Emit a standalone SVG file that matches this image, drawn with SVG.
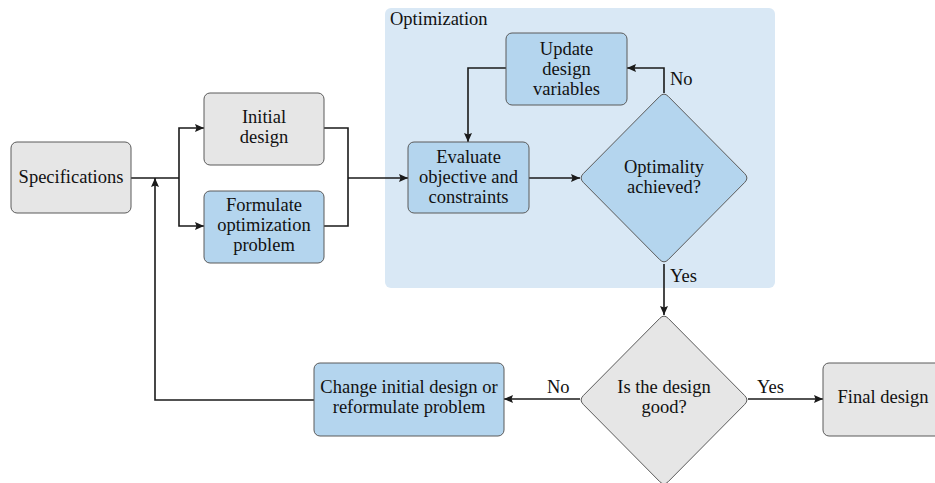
<svg xmlns="http://www.w3.org/2000/svg" xmlns:xlink="http://www.w3.org/1999/xlink" width="935" height="483" viewBox="0 0 935 483">
<style>
  text { font-family: 'Liberation Serif', 'DejaVu Serif', serif; font-size: 18.5px; fill: #111; }
  .t { text-anchor: middle; }
  .gray { fill: #e6e6e6; stroke: #5a5a5a; stroke-width: 1; }
  .blue { fill: #b4d5ee; stroke: #5a5a5a; stroke-width: 1; }
  .conn { fill: none; stroke: #1a1a1a; stroke-width: 1.6; }
  .arr { marker-end: url(#ah); }
</style>
<defs>
  <marker id="ah" markerUnits="userSpaceOnUse" markerWidth="10" markerHeight="8" refX="9" refY="4" orient="auto">
    <path d="M0,0 L9,4 L0,8 L1.5,4 Z" fill="#1a1a1a"/>
  </marker>
  <path id="dia" d="M -4.2,-81.7 Q 0,-86 4.2,-81.7 L 80.8,-4.3 Q 85,0 80.8,4.3 L 4.2,81.7 Q 0,86 -4.2,81.7 L -80.8,4.3 Q -85,0 -80.8,-4.3 Z"/>
</defs>
<rect width="935" height="483" fill="#ffffff"/>

<g font-family="Liberation Serif, DejaVu Serif, serif">
<g id="optimization-region">
  <rect x="385" y="8" width="390" height="280" rx="6" fill="#d9e8f5"/>
  <text x="390" y="25">Optimization</text>
</g>

<g id="connectors">
  <path class="conn" d="M131,178 H179"/>
  <path class="conn arr" d="M179,178 V128 H204"/>
  <path class="conn arr" d="M179,178 V226 H204"/>
  <path class="conn" d="M324,128 H348 V226 H324"/>
  <path class="conn arr" d="M348,178 H408"/>
  <path class="conn arr" d="M529,178 H580"/>
  <path class="conn arr" d="M664,93 V68 H627"/>
  <path class="conn arr" d="M506,68 H468 V142"/>
  <path class="conn arr" d="M664,264 V315"/>
  <path class="conn arr" d="M580,399 H504"/>
  <path class="conn arr" d="M748,399 H823"/>
  <path class="conn arr" d="M314,400 H155 V178"/>
  <text x="670" y="85">No</text>
  <text x="670" y="282">Yes</text>
  <text x="547" y="393">No</text>
  <text x="757" y="393">Yes</text>
</g>

<g id="specifications">
  <rect class="gray" x="11" y="142" width="120" height="71" rx="6"/>
  <text class="t" x="71" y="183">Specifications</text>
</g>

<g id="initial-design">
  <rect class="gray" x="204" y="93" width="120" height="72" rx="6"/>
  <text class="t" x="264" y="123">Initial</text>
  <text class="t" x="264" y="143">design</text>
</g>

<g id="formulate">
  <rect class="blue" x="204" y="191" width="120" height="72" rx="6"/>
  <text class="t" x="264" y="211">Formulate</text>
  <text class="t" x="264" y="231">optimization</text>
  <text class="t" x="264" y="251">problem</text>
</g>

<g id="update">
  <rect class="blue" x="506" y="33" width="121" height="72" rx="6"/>
  <text class="t" x="566.5" y="55">Update</text>
  <text class="t" x="566.5" y="75">design</text>
  <text class="t" x="566.5" y="95">variables</text>
</g>

<g id="evaluate">
  <rect class="blue" x="408" y="142" width="121" height="71" rx="6"/>
  <text class="t" x="468.5" y="163">Evaluate</text>
  <text class="t" x="468.5" y="183">objective and</text>
  <text class="t" x="468.5" y="203">constraints</text>
</g>

<g id="optimality">
  <use xlink:href="#dia" x="664" y="178" class="blue"/>
  <text class="t" x="664" y="173">Optimality</text>
  <text class="t" x="664" y="193">achieved?</text>
</g>

<g id="is-good">
  <use xlink:href="#dia" x="664" y="400" class="gray"/>
  <text class="t" x="664" y="393">Is the design</text>
  <text class="t" x="664" y="413">good?</text>
</g>

<g id="change">
  <rect class="blue" x="314" y="363" width="190" height="73" rx="6"/>
  <text class="t" x="409" y="393">Change initial design or</text>
  <text class="t" x="409" y="413">reformulate problem</text>
</g>

<g id="final-design">
  <rect class="gray" x="823" y="363" width="120" height="73" rx="6"/>
  <text class="t" x="883" y="403">Final design</text>
</g>
</g>
</svg>
